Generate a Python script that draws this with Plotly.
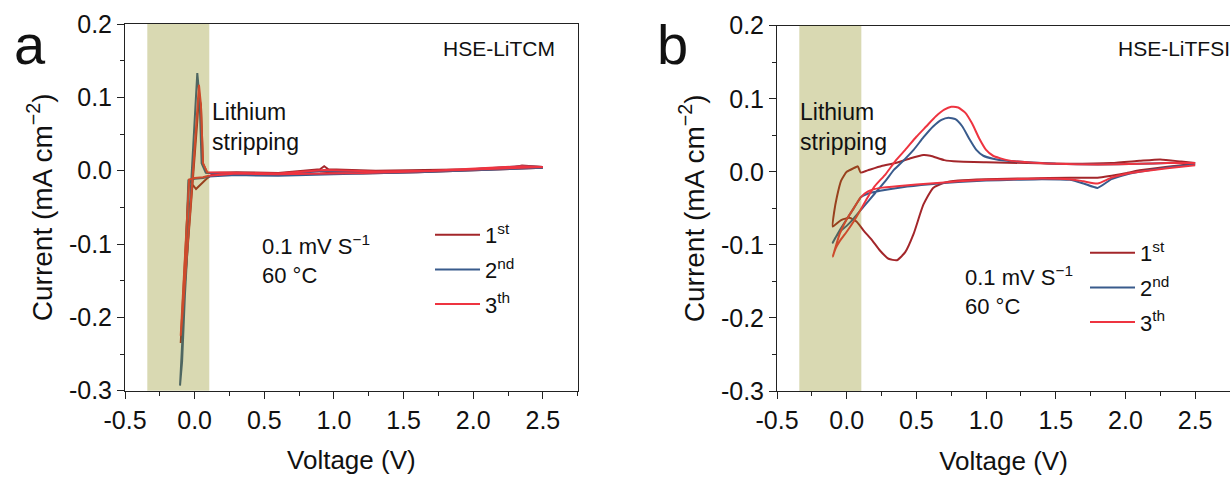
import plotly.graph_objects as go

# ---------------- data ----------------
# Panel a: HSE-LiTCM
volt_a_1st = [2.5, 2.35, 2.2, 2.0, 1.6, 1.2, 0.95, 0.9, 0.6, 0.3, 0.12, 0.08, 0.04, 0.01, -0.04,
              -0.06, -0.08, -0.1, -0.09, -0.06, -0.03, 0.0, 0.02, 0.03, 0.045, 0.06, 0.09, 0.3,
              0.6, 0.9, 0.93, 0.96, 1.3, 1.7, 2.0, 2.3, 2.35, 2.5]
curr_a_1st = [0.004, 0.003, 0.002, 0.0, -0.002, -0.004, -0.003, -0.004, -0.006, -0.005, -0.006,
              -0.012, -0.02, -0.025, -0.013, -0.09, -0.17, -0.235, -0.2, -0.13, -0.06, 0.02, 0.07,
              0.1, 0.09, 0.01, -0.003, -0.002, -0.003, 0.002, 0.006, 0.002, 0.0, 0.001, 0.002,
              0.005, 0.007, 0.005]
volt_a_2nd = [2.5, 2.2, 2.0, 1.6, 1.2, 0.9, 0.6, 0.3, 0.1, 0.06, 0.0, -0.045, -0.06, -0.08, -0.105,
              -0.09, -0.07, -0.04, -0.01, 0.01, 0.019, 0.035, 0.05, 0.08, 0.3, 0.6, 0.93, 1.3, 1.7,
              2.0, 2.35, 2.5]
curr_a_2nd = [0.004, 0.002, 0.0, -0.002, -0.004, -0.005, -0.007, -0.006, -0.008, -0.01, -0.011,
              -0.013, -0.1, -0.2, -0.293, -0.26, -0.17, -0.07, 0.02, 0.09, 0.133, 0.1, 0.01, -0.003,
              -0.004, -0.006, 0.0, -0.003, -0.001, 0.002, 0.006, 0.005]
volt_a_3th = [2.5, 2.2, 2.0, 1.6, 1.2, 0.9, 0.6, 0.3, 0.1, 0.06, 0.0, -0.04, -0.06, -0.08, -0.1,
              -0.085, -0.06, -0.03, 0.0, 0.02, 0.031, 0.045, 0.06, 0.09, 0.3, 0.6, 0.93, 1.3, 1.7,
              2.0, 2.35, 2.5]
curr_a_3th = [0.005, 0.003, 0.001, -0.001, -0.003, -0.004, -0.005, -0.004, -0.007, -0.009, -0.01,
              -0.012, -0.08, -0.16, -0.225, -0.19, -0.12, -0.05, 0.03, 0.09, 0.117, 0.09, 0.01,
              -0.002, -0.003, -0.004, 0.001, -0.001, 0.0, 0.003, 0.006, 0.005]

# Panel b: HSE-LiTFSI
volt_b_1st = [2.5, 2.3, 2.1, 2.0, 1.8, 1.6, 1.3, 1.0, 0.8, 0.7, 0.62, 0.55, 0.48, 0.42, 0.36, 0.3,
              0.24, 0.18, 0.12, 0.07, 0.02, -0.04, -0.1, -0.09, -0.07, -0.04, 0.0, 0.05, 0.08, 0.1,
              0.15, 0.25, 0.35, 0.45, 0.55, 0.6, 0.7, 0.8, 1.0, 1.3, 1.6, 1.9, 2.1, 2.25, 2.4, 2.5]
curr_b_1st = [0.011, 0.007, 0.002, -0.002, -0.008, -0.008, -0.009, -0.01, -0.012, -0.015, -0.022,
              -0.045, -0.085, -0.11, -0.121, -0.119, -0.108, -0.093, -0.08, -0.068, -0.063, -0.066,
              -0.075, -0.055, -0.034, -0.012, 0.0, 0.005, 0.0075, -0.001, 0.002, 0.008, 0.012,
              0.018, 0.023, 0.022, 0.016, 0.014, 0.013, 0.012, 0.011, 0.012, 0.015, 0.017, 0.014,
              0.012]
volt_b_2nd = [2.5, 2.3, 2.1, 2.0, 1.9, 1.8, 1.7, 1.6, 1.4, 1.2, 1.0, 0.8, 0.6, 0.4, 0.24, 0.15, 0.1,
              0.09, 0.05, 0.0, -0.05, -0.1, -0.08, -0.05, 0.0, 0.05, 0.12, 0.2, 0.28, 0.34, 0.4,
              0.48, 0.55, 0.62, 0.68, 0.73, 0.78, 0.83, 0.88, 0.93, 0.98, 1.05, 1.15, 1.3, 1.5, 1.8,
              2.1, 2.3, 2.5]
curr_b_2nd = [0.01, 0.006, 0.0, -0.004, -0.01, -0.022, -0.016, -0.011, -0.01, -0.011, -0.012,
              -0.014, -0.017, -0.021, -0.026, -0.03, -0.035, -0.038, -0.05, -0.065, -0.08, -0.097,
              -0.09, -0.082, -0.074, -0.064, -0.048, -0.03, -0.012, 0.003, 0.014, 0.03, 0.047,
              0.062, 0.071, 0.074, 0.072, 0.062, 0.045, 0.03, 0.022, 0.018, 0.015, 0.013, 0.011,
              0.01, 0.011, 0.012, 0.012]
volt_b_3th = [2.5, 2.3, 2.1, 2.0, 1.9, 1.8, 1.7, 1.6, 1.4, 1.2, 1.0, 0.8, 0.6, 0.4, 0.24, 0.15, 0.1,
              0.05, 0.0, -0.05, -0.1, -0.08, -0.05, 0.0, 0.05, 0.1, 0.15, 0.2, 0.28, 0.35, 0.42,
              0.5, 0.57, 0.64, 0.7, 0.75, 0.8, 0.85, 0.9, 0.95, 1.0, 1.05, 1.15, 1.3, 1.5, 1.8, 2.1,
              2.3, 2.5]
curr_b_3th = [0.009, 0.005, 0.0, -0.003, -0.008, -0.016, -0.013, -0.01, -0.009, -0.01, -0.011,
              -0.013, -0.016, -0.019, -0.022, -0.027, -0.035, -0.05, -0.065, -0.085, -0.116,
              -0.105, -0.095, -0.082, -0.068, -0.052, -0.035, -0.02, -0.003, 0.015, 0.03, 0.048,
              0.062, 0.076, 0.085, 0.089, 0.088, 0.081, 0.066, 0.046, 0.03, 0.022, 0.016, 0.013,
              0.011, 0.01, 0.011, 0.012, 0.012]

cycle_names = ["1<sup>st</sup>", "2<sup>nd</sup>", "3<sup>th</sup>"]
cycle_colors = ["#A3262A", "#395B8C", "#EE3440"]

x_tick_vals = [-0.5, 0.0, 0.5, 1.0, 1.5, 2.0, 2.5]
x_tick_text = ["-0.5", "0.0", "0.5", "1.0", "1.5", "2.0", "2.5"]
y_tick_vals = [-0.3, -0.2, -0.1, 0.0, 0.1, 0.2]
y_tick_text = ["-0.3", "-0.2", "-0.1", "0.0", "0.1", "0.2"]

stripping_window = [-0.34, 0.105]

# ---------------- figure ----------------
FONT = "Liberation Sans, Arial, sans-serif"
W, H = 1230, 486
fig = go.Figure()

panel_a = [(volt_a_1st, curr_a_1st), (volt_a_2nd, curr_a_2nd), (volt_a_3th, curr_a_3th)]
panel_b = [(volt_b_1st, curr_b_1st), (volt_b_2nd, curr_b_2nd), (volt_b_3th, curr_b_3th)]

for i, (v, c) in enumerate(panel_a):
    fig.add_trace(go.Scatter(x=v, y=c, mode="lines", name=cycle_names[i],
                             line=dict(color=cycle_colors[i], width=2),
                             legendgroup="a%d" % i,
                             xaxis="x", yaxis="y", legend="legend"))
for i, (v, c) in enumerate(panel_b):
    fig.add_trace(go.Scatter(x=v, y=c, mode="lines", name=cycle_names[i],
                             line=dict(color=cycle_colors[i], width=2, shape="spline",
                                       smoothing=0.5),
                             legendgroup="b%d" % i,
                             xaxis="x2", yaxis="y2", legend="legend2"))

def px(x):
    return x / W

def py(y):
    return 1 - y / H

axis_common = dict(showline=True, mirror=True, linecolor="#222", linewidth=1,
                   ticks="outside", ticklen=7, tickcolor="#222", showgrid=False,
                   zeroline=False, automargin=False,
                   tickfont=dict(family=FONT, size=25, color="#111"))

xa = dict(axis_common, range=[-0.5, 2.75], tickvals=x_tick_vals, ticktext=x_tick_text,
          minor=dict(ticks="outside", ticklen=4, dtick=0.25, tick0=-0.5, tickcolor="#222"),
          title=dict(text="Voltage (V)", font=dict(family=FONT, size=26, color="#111"),
                     standoff=18))
ya = dict(axis_common, range=[-0.3, 0.2], tickvals=y_tick_vals, ticktext=y_tick_text,
          minor=dict(ticks="outside", ticklen=4, dtick=0.05, tick0=-0.3, tickcolor="#222"),
          title=dict(text="Current (mA cm<sup>\u22122</sup>)",
                     font=dict(family=FONT, size=28, color="#111"), standoff=8))

fig.update_layout(
    width=W, height=H, margin=dict(l=0, r=0, t=0, b=0, autoexpand=False),
    paper_bgcolor="white", plot_bgcolor="white",
    font=dict(family=FONT, color="#111"),
    xaxis=dict(xa, domain=[px(125), px(577.7)], anchor="y"),
    yaxis=dict(ya, domain=[py(390.7), py(24)], anchor="x"),
    xaxis2=dict(xa, domain=[px(777), 1.0], anchor="y2"),
    yaxis2=dict(ya, domain=[py(391), py(25.7)], anchor="x2"),
    legend=dict(x=px(430), y=py(214), xanchor="left", yanchor="top",
                font=dict(family=FONT, size=22, color="#111"), itemwidth=45,
                tracegroupgap=3, bgcolor="rgba(0,0,0,0)"),
    legend2=dict(x=px(1085), y=py(232), xanchor="left", yanchor="top",
                 font=dict(family=FONT, size=22, color="#111"), itemwidth=45,
                 tracegroupgap=3, bgcolor="rgba(0,0,0,0)"),
    showlegend=True,
)

for xr, yr in (("x", "y domain"), ("x2", "y2 domain")):
    fig.add_shape(type="rect", xref=xr, yref=yr, x0=stripping_window[0], x1=stripping_window[1],
                  y0=0, y1=1, fillcolor="rgba(128,128,0,0.3)", line=dict(width=0), layer="above")

def note(text, x, y, size, xanchor="left"):
    fig.add_annotation(text=text, x=px(x), y=py(y), xref="paper", yref="paper",
                       xanchor=xanchor, yanchor="middle", align="left", showarrow=False,
                       font=dict(family=FONT, size=size, color="#111"))

note("a", 30, 45, 56, "center")
note("b", 672, 45, 56, "center")
note("HSE-LiTCM", 499, 48, 21, "center")
note("HSE-LiTFSI", 1174, 48, 21, "center")
note("Lithium<br>stripping", 210, 127, 23)
note("Lithium<br>stripping", 798, 127, 23)
note("0.1 mV S<sup>\u22121</sup><br>60 \u00b0C", 260, 259, 22)
note("0.1 mV S<sup>\u22121</sup><br>60 \u00b0C", 963, 290, 22)

fig.write_html("out.html")
